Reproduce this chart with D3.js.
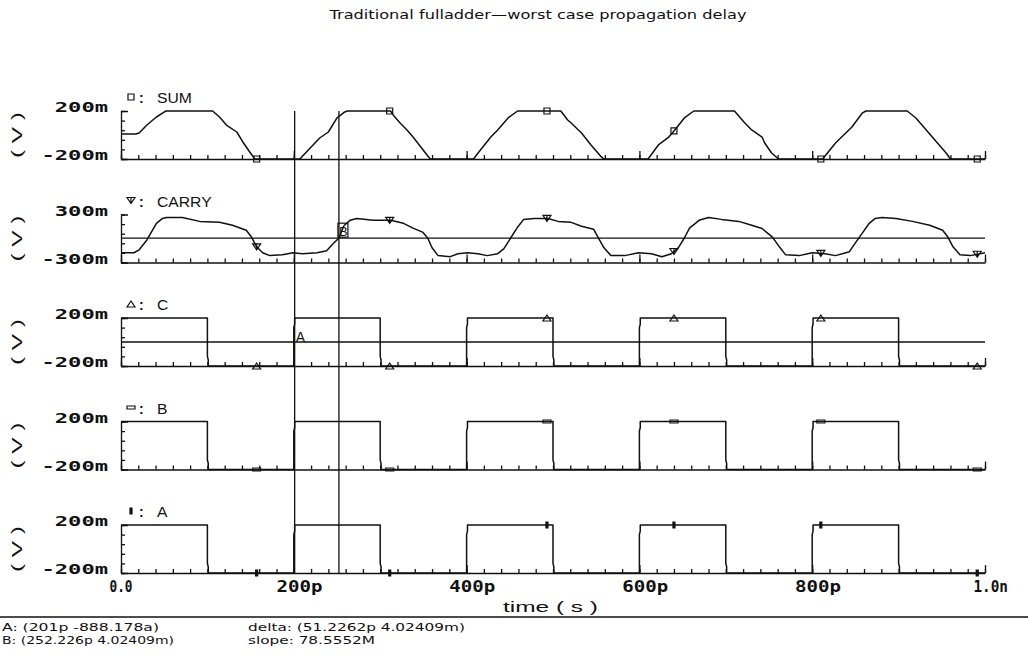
<!DOCTYPE html>
<html>
<head>
<meta charset="utf-8">
<script src="https://cdn.jsdelivr.net/npm/d3@7"></script>
<style>
body{margin:0;background:#fff;}
</style>
</head>
<body>
<svg id="svgx" width="1028" height="658"></svg>
<script>
// waveforms, time in ps / value in V
var sumPts = [[0,0.008],[17,0.008],[21,0.017],[30,0.083],[41,0.15],[48,0.183],[52,0.2],[106,0.2],[114,0.15],[122,0.083],[134,0.025],[141,-0.058],[149,-0.142],[155,-0.2],
  [207,-0.2],[219,-0.108],[230,-0.025],[240,0.025],[250,0.142],[259,0.192],[262,0.2],[312,0.2],[315,0.167],[323,0.1],[331,0.042],[338,-0.017],[347,-0.1],[356,-0.183],[358,-0.2],
  [408,-0.2],[416,-0.125],[428,-0.017],[436,0.042],[448,0.142],[459,0.2],[509,0.2],[517,0.125],[521,0.1],[533,0.017],[544,-0.083],[556,-0.183],[559,-0.2],
  [610,-0.2],[622,-0.083],[634,-0.017],[641,0.042],[652,0.142],[663,0.2],[710,0.2],[721,0.108],[730,0.042],[742,-0.017],[745,-0.067],[753,-0.15],[761,-0.2],
  [812,-0.2],[827,-0.067],[846,0.067],[858,0.183],[862,0.2],[910,0.2],[920,0.142],[939,-0.017],[955,-0.15],[960,-0.2],[1000,-0.2]];

var carryPts = [[0,-0.178],[15,-0.178],[21,-0.141],[30,-0.018],[41,0.19],[48,0.251],[53,0.263],[71,0.263],[91,0.214],[114,0.202],[129,0.165],[145,0.104],[151,0.018],[157,-0.104],[164,-0.178],
  [172,-0.214],[187,-0.202],[199,-0.178],[210,-0.19],[227,-0.178],[238,-0.153],[246,-0.06],[252,0.004],[258,0.16],[265,0.227],[273,0.251],[292,0.227],[312,0.227],[327,0.19],[338,0.129],[349,0.08],
  [355,0.006],[360,-0.116],[367,-0.214],[381,-0.227],[390,-0.19],[401,-0.178],[413,-0.19],[424,-0.214],[436,-0.19],[443,-0.129],[451,0.006],[459,0.141],[466,0.239],[478,0.251],[494,0.251],
  [506,0.214],[521,0.202],[533,0.153],[547,0.116],[552,0.018],[559,-0.116],[567,-0.214],[583,-0.214],[599,-0.178],[614,-0.19],[626,-0.227],[637,-0.19],[645,-0.116],[652,0.006],[658,0.129],
  [669,0.227],[680,0.263],[695,0.239],[715,0.214],[730,0.165],[742,0.125],[754,0.018],[762,-0.104],[769,-0.202],[785,-0.214],[800,-0.178],[815,-0.19],[827,-0.214],[843,-0.165],[850,-0.055],
  [858,0.067],[866,0.19],[873,0.251],[881,0.263],[897,0.251],[916,0.214],[936,0.165],[951,0.104],[957,0.018],[963,-0.104],[971,-0.202],[983,-0.214],[1000,-0.178]];

// C, B and A get the same stimulus
var inputPts = [[0,0.2],[100,0.2],[100,-0.12],[101,-0.15],[101,-0.2],[200,-0.2],[200,0.12],[201,0.15],[201,0.2],
  [300,0.2],[300,-0.12],[301,-0.15],[301,-0.2],[400,-0.2],[400,0.12],[401,0.15],[401,0.2],
  [500,0.2],[500,-0.12],[501,-0.15],[501,-0.2],[600,-0.2],[600,0.12],[601,0.15],[601,0.2],
  [700,0.2],[700,-0.12],[701,-0.15],[701,-0.2],[800,-0.2],[800,0.12],[801,0.15],[801,0.2],
  [900,0.2],[900,-0.12],[901,-0.15],[901,-0.2],[1000,-0.2]];

var traceNames = ["SUM","CARRY","C","B","A"];
var traceRange = [0.2,0.3,0.2,0.2,0.2];
var markerT = [157,311,493,640,810,991];
var cursorT = [201,252.226];
var cursorV = [-888.178e-18,4.02409e-3];
var xTickVals = [0,200,400,600,800,1000];
var xTickLabels = ["0.0","200p","400p","600p","800p","1.0n"];
var title = "Traditional fulladder\u2014worst case propagation delay";
var footLeft = ["A: (201p -888.178a)","B: (252.226p 4.02409m)"];
var footRight = ["delta: (51.2262p 4.02409m)","slope: 78.5552M"];

var traces = [sumPts,carryPts,inputPts,inputPts,inputPts];

var W=1028, H=658;
var top0=111, step=103.5, ph=48;
var ink="#111";
var mono="'DejaVu Sans Mono', monospace";
var sans="'Liberation Sans', Arial, sans-serif";

var svg=d3.select('#svgx');
svg.append('rect').attr('width',W).attr('height',H).attr('fill','#fff');

var x=d3.scaleLinear().domain([0,1000]).range([121,985]);

function fit(sel,w){
  sel.attr('textLength',w).attr('lengthAdjust','spacingAndGlyphs');
}
function labelW(s,cw){
  var w=0;
  for (var i=0;i<s.length;i++){ w+= s[i]==='.'? 0 : cw; }
  return w;
}
function valueAt(pts,t){
  for (var i=1;i<pts.length;i++){
    if (pts[i][0]>=t){
      var a=pts[i-1], b=pts[i];
      var f= b[0]===a[0]? 1 : (t-a[0])/(b[0]-a[0]);
      return a[1]+f*(b[1]-a[1]);
    }
  }
  return pts[pts.length-1][1];
}

// marker shapes per trace
var markerPath = [
  "M-3,-3h6v6h-6z",
  "M-4,-3L4,-3L0,3Z M0,-3V2",
  "M-4,3L4,3L0,-3Z",
  "M-4,-1.5h8v3h-8z",
  "M-1,-3h2v6h-2z"
];
var markerFill = ["none","none","none","none",ink];

// title
svg.append('text')
  .attr('x',538).attr('y',19)
  .attr('text-anchor','middle')
  .style('font-family',"'DejaVu Sans', sans-serif")
  .style('font-size','12px')
  .attr('fill',ink)
  .text(title)
  .call(fit,417);

var ys=[];
traceNames.forEach(function(name,i){
  var top=top0+i*step, bot=top+ph, r=traceRange[i];
  var y=d3.scaleLinear().domain([-r,r]).range([bot,top]);
  ys.push(y);
  var g=svg.append('g').attr('class','panel').attr('id','panel'+i);

  // x axis: minor ticks every 20p, taller every 200p
  g.append('g')
    .attr('transform',`translate(0,${bot})`)
    .style('color',ink)
    .call(d3.axisBottom(x).tickValues(d3.range(0,1001,20)).tickSize(-4).tickSizeOuter(0).tickFormat(''))
    .call(a=>a.selectAll('line,path').attr('stroke-width',1.3));
  g.append('g')
    .attr('transform',`translate(0,${bot})`)
    .style('color',ink)
    .call(d3.axisBottom(x).tickValues(xTickVals).tickSize(-8).tickSizeOuter(0).tickFormat(''))
    .call(a=>a.select('.domain').remove())
    .call(a=>a.selectAll('line').attr('stroke-width',1.3));

  // y axis
  g.append('g')
    .attr('transform',`translate(${x(0)},0)`)
    .style('color',ink)
    .call(d3.axisRight(y).tickValues(d3.range(6).map(k=>-r+k*2*r/5)).tickSize(4).tickSizeOuter(7).tickFormat(''))
    .call(a=>a.selectAll('line,path').attr('stroke-width',1.3));

  // y labels
  var fmt=v=>(v<0?"-":"")+Math.round(Math.abs(v)*1000)+"m";
  [r,-r].forEach(function(v){
    var s=fmt(v);
    g.append('text')
      .attr('x',108).attr('y',y(v)+1)
      .attr('text-anchor','end')
      .style('font-family',mono).style('font-weight','bold').style('font-size','14px')
      .attr('fill',ink)
      .text(s)
      .call(fit,s.length*13.3);
  });

  // ( V )
  g.append('text')
    .attr('transform',`translate(22,${(top+bot)/2}) rotate(-90)`)
    .attr('text-anchor','middle')
    .style('font-family',sans).style('font-size','15px')
    .attr('fill',ink)
    .text('( V )')
    .call(fit,46);

  // legend
  g.append('path')
    .attr('d',markerPath[i])
    .attr('transform',`translate(131,${top-14})`)
    .attr('fill',markerFill[i]).attr('stroke',ink).attr('stroke-width',1.2);
  g.append('text')
    .attr('x',139).attr('y',top-8)
    .style('font-family',sans).style('font-size','14px').style('font-weight','bold')
    .attr('fill',ink).text(':');
  var lt=g.append('text')
    .attr('x',157).attr('y',top-8)
    .style('font-family',sans).style('font-size','14px')
    .attr('fill',ink).text(name);
  lt.call(fit,lt.node().getComputedTextLength()*1.12);

  // waveform
  var line=d3.line().x(d=>x(d[0])).y(d=>y(d[1]));
  g.append('path')
    .datum(traces[i])
    .attr('d',line)
    .attr('fill','none')
    .attr('stroke',ink)
    .attr('stroke-width',1.5)
    .attr('stroke-linejoin','round');

  // markers on the trace
  g.selectAll('.mk').data(markerT).enter()
    .append('path').attr('class','mk')
    .attr('d',markerPath[i])
    .attr('transform',t=>`translate(${x(t)},${y(valueAt(traces[i],t))})`)
    .attr('fill',markerFill[i]).attr('stroke',ink).attr('stroke-width',1.2);
});

// horizontal cursor levels: B on CARRY, A on C
[[1,cursorV[1]],[2,cursorV[0]]].forEach(function(d){
  svg.append('line')
    .attr('x1',x(0)).attr('x2',x(1000))
    .attr('y1',ys[d[0]](d[1])).attr('y2',ys[d[0]](d[1]))
    .attr('stroke',ink).attr('stroke-width',1.3);
});

// vertical cursors
svg.selectAll('.cursor').data(cursorT).enter()
  .append('line').attr('class','cursor')
  .attr('x1',d=>x(d)).attr('x2',d=>x(d))
  .attr('y1',top0).attr('y2',top0+4*step+ph)
  .attr('stroke',ink).attr('stroke-width',1.3);

svg.append('text')
  .attr('x',x(cursorT[0])+1).attr('y',ys[2](cursorV[0]))
  .style('font-family',sans).style('font-size','14px')
  .attr('fill',ink).text('A');
var bx=x(cursorT[1]), by=ys[1](cursorV[1]);
svg.append('rect')
  .attr('x',bx-1).attr('y',by-15).attr('width',10).attr('height',14)
  .attr('fill','none').attr('stroke',ink).attr('stroke-width',1.2);
svg.append('text')
  .attr('x',bx).attr('y',by-2)
  .style('font-family',sans).style('font-size','13px')
  .attr('fill',ink).text('B');

// x tick labels under the last panel
svg.selectAll('.xl').data(xTickVals).enter()
  .append('text').attr('class','xl')
  .attr('x',(d,i)=>x(d)-labelW(xTickLabels[i].slice(0,3),11.5)/2)
  .attr('y',592)
  .style('font-family',mono).style('font-weight','bold').style('font-size','15px')
  .attr('fill',ink)
  .text((d,i)=>xTickLabels[i])
  .each(function(d,i){ d3.select(this).call(fit,labelW(xTickLabels[i],11.5)); });

svg.append('text')
  .attr('x',503).attr('y',612)
  .style('font-family',sans).style('font-size','15px')
  .attr('fill',ink)
  .text('time ( s )')
  .call(fit,95);

// footer
svg.append('line')
  .attr('x1',0).attr('x2',W).attr('y1',617).attr('y2',617)
  .attr('stroke',ink).attr('stroke-width',1.5);
var footW=[[157,172],[217,127]];
[footLeft,footRight].forEach(function(col,c){
  col.forEach(function(s,k){
    svg.append('text')
      .attr('x',c===0? 2 : 248).attr('y',631+k*13)
      .style('font-family',"'DejaVu Sans', sans-serif").style('font-size','11px')
      .attr('fill',ink)
      .text(s)
      .call(fit,footW[c][k]);
  });
});
</script>
</body>
</html>
